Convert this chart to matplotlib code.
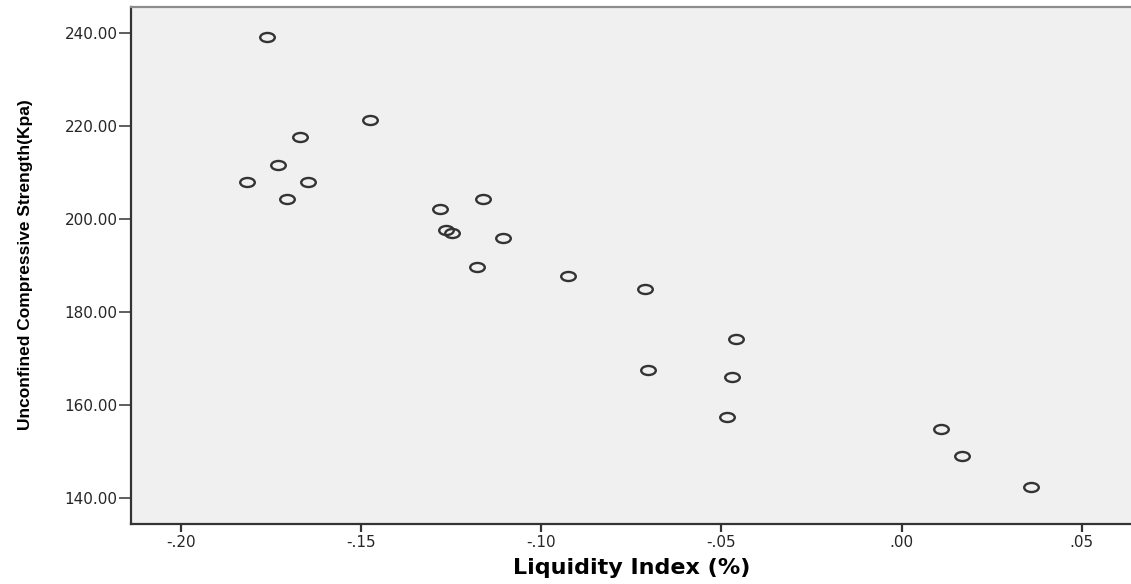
import numpy as np
from matplotlib import pyplot as plt
from matplotlib.path import Path

# Liquidity Index (%) vs Unconfined Compressive Strength (Kpa)
liquidity_index = [-0.1761, -0.1476, -0.1671, -0.1730, -0.1818, -0.1647, -0.1707,
                   -0.1282, -0.1162, -0.1264, -0.1248, -0.1106, -0.1178, -0.0927,
                   -0.0713, -0.0460, -0.0705, -0.0471, -0.0485, 0.0109, 0.0169, 0.0359]
ucs = [239.3, 221.4, 217.7, 211.6, 208.05, 208.05, 204.46,
       202.2, 204.4, 197.7, 197.14, 195.94, 189.76, 187.76,
       185.03, 174.12, 167.54, 165.95, 157.43, 154.76, 149.04, 142.37]

x_ticks = [-0.20, -0.15, -0.10, -0.05, 0.00, 0.05]
x_tick_labels = ["-.20", "-.15", "-.10", "-.05", ".00", ".05"]
y_ticks = [140, 160, 180, 200, 220, 240]
y_tick_labels = ["140.00", "160.00", "180.00", "200.00", "220.00", "240.00"]

if __name__ == '__main__':
    fig = plt.figure(figsize=(11.31, 5.84), dpi=100)
    ax = fig.add_axes([131 / 1131, 60 / 584, 1000 / 1131, 517 / 584])
    ax.set_facecolor("#f0f0f0")

    # slightly flattened circle, the source picture is stretched sideways
    circ = Path.unit_circle()
    ellipse = Path(circ.vertices * np.array([1.0, 0.62]), circ.codes)
    ax.plot(liquidity_index, ucs, linestyle="none", marker=ellipse, markersize=10.5,
            markerfacecolor="none", markeredgecolor="#333333", markeredgewidth=1.7)

    ax.set_xlim(-0.2139, 0.0637)
    ax.set_ylim(134.4, 245.7)
    ax.set_xticks(x_ticks)
    ax.set_xticklabels(x_tick_labels)
    ax.set_yticks(y_ticks)
    ax.set_yticklabels(y_tick_labels)

    for lab in ax.get_xticklabels() + ax.get_yticklabels():
        lab.set_family("DejaVu Sans")
        lab.set_fontsize(11)
        lab.set_color("#262626")

    ax.tick_params(axis="y", direction="out", length=8.6, width=1.1, pad=1, color="#333333")
    ax.tick_params(axis="x", direction="out", length=5.8, width=1.6, pad=2, color="#333333")

    ax.spines["left"].set_color("#333333")
    ax.spines["left"].set_linewidth(1.6)
    ax.spines["bottom"].set_color("#333333")
    ax.spines["bottom"].set_linewidth(1.6)
    ax.spines["top"].set_color("#8c8c8c")
    ax.spines["top"].set_linewidth(1.6)
    ax.spines["right"].set_visible(False)

    ax.set_ylabel("Unconfined Compressive Strength(Kpa)", fontsize=12.5, fontweight="bold",
                  family="Liberation Sans")
    ax.yaxis.set_label_coords(-0.098, 0.502)
    ax.set_xlabel("Liquidity Index (%)", fontsize=16, fontweight="bold", family="DejaVu Sans")
    ax.xaxis.set_label_coords(0.501, -0.066)

    fig.savefig("out.png", dpi=100)
